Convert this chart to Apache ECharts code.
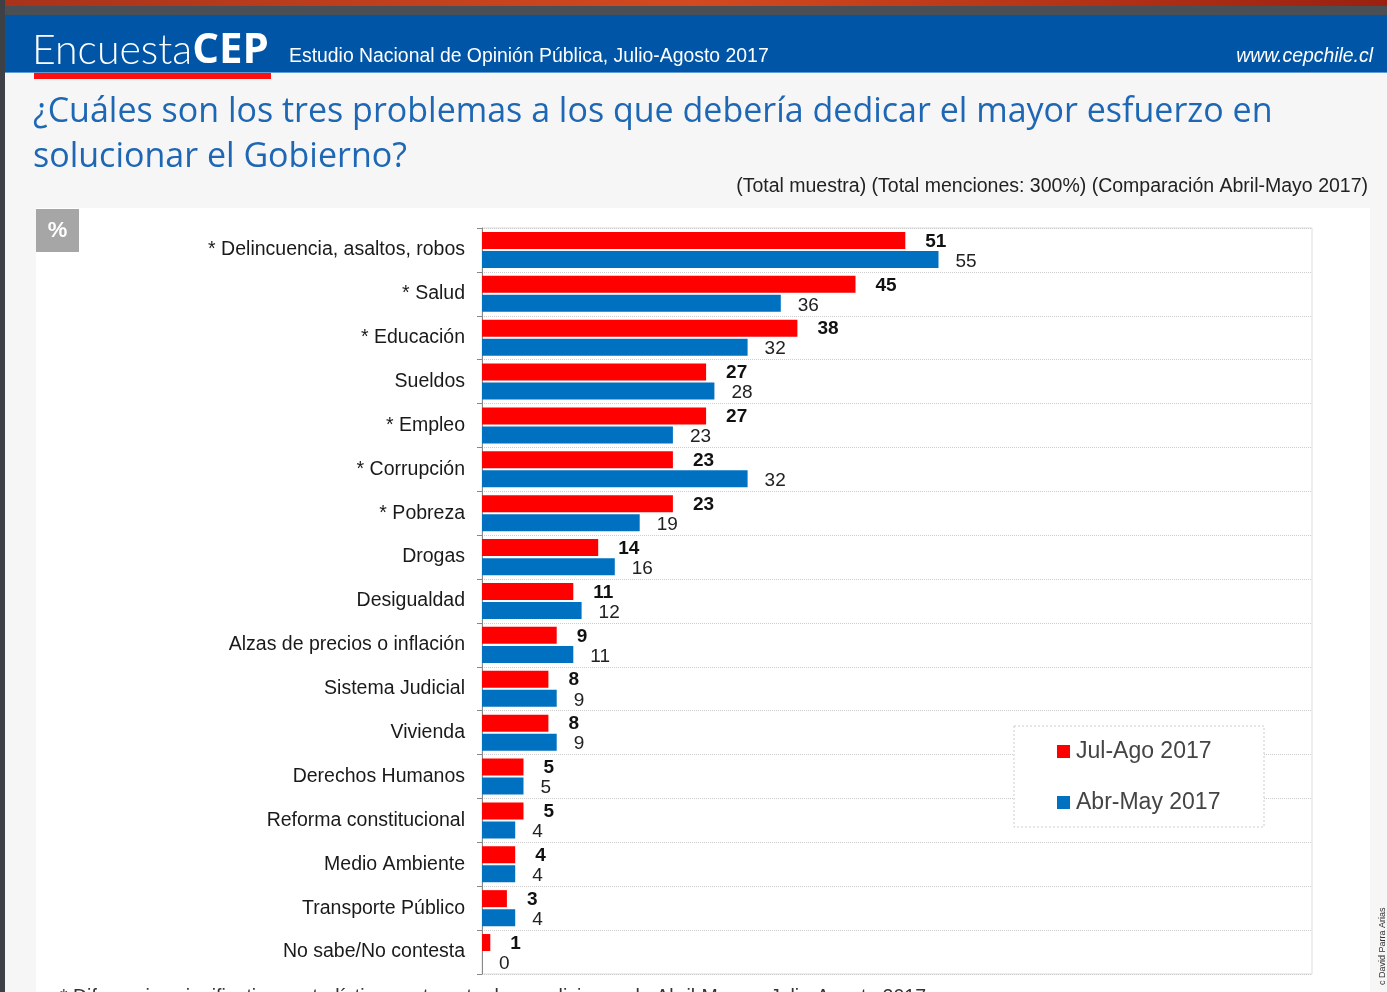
<!DOCTYPE html>
<html><head><meta charset="utf-8">
<script src="https://cdn.jsdelivr.net/npm/echarts@6/dist/echarts.min.js"></script>
<style>html,body{margin:0;padding:0;background:#f6f6f6;}#c{width:1387px;height:992px;}</style>
</head><body><div id="c"></div>
<script>
const categories = ["* Delincuencia, asaltos, robos","* Salud","* Educación","Sueldos","* Empleo","* Corrupción","* Pobreza","Drogas","Desigualdad","Alzas de precios o inflación","Sistema Judicial","Vivienda","Derechos Humanos","Reforma constitucional","Medio Ambiente","Transporte Público","No sabe/No contesta"];
const julAgo2017 = [51,45,38,27,27,23,23,14,11,9,8,8,5,5,4,3,1];
const abrMay2017 = [55,36,32,28,23,32,19,16,12,11,9,9,5,4,4,4,0];
const seriesNames = ["Jul-Ago 2017","Abr-May 2017"];
const titleLines = ["¿Cuáles son los tres problemas a los que debería dedicar el mayor esfuerzo en","solucionar el Gobierno?"];
const subtitle = "(Total muestra) (Total menciones: 300%) (Comparación Abril-Mayo 2017)";
const headerText = "Estudio Nacional de Opinión Pública, Julio-Agosto 2017";
const siteText = "www.cepchile.cl";
const footnote = "* Diferencias significativas estadísticamente entre las mediciones de Abril-Mayo y Julio-Agosto 2017";
const credit = "c David Parra Arias";

const chart = echarts.init(document.getElementById('c'), null, {renderer:'canvas'});
const sans = 'Liberation Sans, Arial, sans-serif';
chart.setOption({
  backgroundColor:'#f6f6f6',
  animation:false,
  graphic:[
    {type:'rect', shape:{x:0,y:0,width:1387,height:6}, style:{fill:new echarts.graphic.LinearGradient(0,0,1,0,[{offset:0,color:'#a8321a'},{offset:0.5,color:'#d24a1f'},{offset:1,color:'#9a2010'}])}, z:1},
    {type:'rect', shape:{x:0,y:6,width:1387,height:9}, style:{fill:'#4a4f55'}, z:1},
    {type:'rect', shape:{x:0,y:15,width:1387,height:57}, style:{fill:'#0055a6'}, z:1},
    {type:'rect', shape:{x:0,y:72,width:1387,height:1}, style:{fill:'#5f9bd6'}, z:1},
    {type:'rect', shape:{x:0,y:0,width:5,height:992}, style:{fill:'#3d4145'}, z:2},
    {type:'rect', shape:{x:36,y:208,width:1334,height:784}, style:{fill:'#ffffff'}, z:-1},
    {type:'rect', shape:{x:34,y:73,width:237,height:6}, style:{fill:'#ff1010'}, z:2},
    {type:'text', x:32, y:51, style:{text:'{a|Encuesta}{b|CEP}', verticalAlign:'middle', rich:{a:{fontSize:41,fontFamily:'Lato, Open Sans, sans-serif',fontWeight:300,fill:'#ffffff'},b:{fontSize:42,fontFamily:'Open Sans, sans-serif',fontWeight:'bold',fill:'#ffffff'}}}, z:3},
    {type:'text', x:289, y:57, style:{text:headerText, fontSize:19.4, fontFamily:sans, fill:'#ffffff', verticalAlign:'middle'}, z:3},
    {type:'text', x:1373, y:57, style:{text:siteText, fontSize:19.4, fontFamily:sans, fontStyle:'italic', fill:'#ffffff', align:'right', verticalAlign:'middle'}, z:3},
    {type:'text', x:33, y:112, style:{text:titleLines[0], fontSize:34, fontFamily:'Open Sans, sans-serif', fill:'#1e67b4', verticalAlign:'middle'}, z:3},
    {type:'text', x:33, y:157, style:{text:titleLines[1], fontSize:34, fontFamily:'Open Sans, sans-serif', fill:'#1e67b4', verticalAlign:'middle'}, z:3},
    {type:'text', x:1368, y:187, style:{text:subtitle, fontSize:19.5, fontFamily:sans, fill:'#222222', align:'right', verticalAlign:'middle'}, z:3},
    {type:'rect', shape:{x:36,y:209,width:43,height:43}, style:{fill:'#a6a6a6'}, z:3},
    {type:'text', x:57.5, y:231, style:{text:'%', fontSize:22, fontWeight:'bold', fontFamily:sans, fill:'#ffffff', align:'center', verticalAlign:'middle'}, z:4},
    {type:'rect', shape:{x:1014,y:726,width:250,height:101}, style:{fill:'#ffffff', stroke:'#cccccc', lineWidth:1, lineDash:[2,2]}, z:5},
    {type:'text', x:60, y:988, style:{text:footnote, fontSize:19.5, fontFamily:sans, fill:'#333333', verticalAlign:'top'}, z:3},
    {type:'text', x:1383, y:985, rotation:Math.PI/2, style:{text:credit, fontSize:9, fontFamily:sans, fill:'#333333', verticalAlign:'middle'}, z:3}
  ],
  grid:{left:482, right:75, top:228, bottom:18, show:true, borderColor:'#dddddd', borderWidth:1, backgroundColor:'#ffffff'},
  legend:{
    orient:'vertical', left:1052, top:735, itemWidth:13, itemHeight:13, itemGap:28,
    icon:'rect', data:seriesNames, z:6,
    textStyle:{fontSize:23, fontFamily:sans, color:'#444444', padding:[0,0,0,1], lineHeight:22}
  },
  xAxis:{type:'value', min:0, max:100, show:false},
  yAxis:{
    type:'category', data:categories, inverse:true,
    axisLine:{show:true, lineStyle:{color:'#888888', width:1}},
    axisTick:{show:true, length:5, lineStyle:{color:'#888888'}},
    axisLabel:{fontSize:19.5, fontFamily:sans, color:'#1a1a1a', margin:17},
    splitLine:{show:true, lineStyle:{color:'#cccccc', type:'dotted', width:1}}
  },
  series:[
    {name:seriesNames[0], type:'bar', data:julAgo2017, barWidth:17, barGap:'12%',
     itemStyle:{color:'#ff0000'},
     label:{show:true, position:'right', distance:20, fontSize:19, fontWeight:'bold', fontFamily:sans, color:'#111111', offset:[0,1]}},
    {name:seriesNames[1], type:'bar', data:abrMay2017, barWidth:17,
     itemStyle:{color:'#0070c0'},
     label:{show:true, position:'right', distance:17, fontSize:19, fontFamily:sans, color:'#222222', offset:[0,2]}}
  ]
});
</script></body></html>
